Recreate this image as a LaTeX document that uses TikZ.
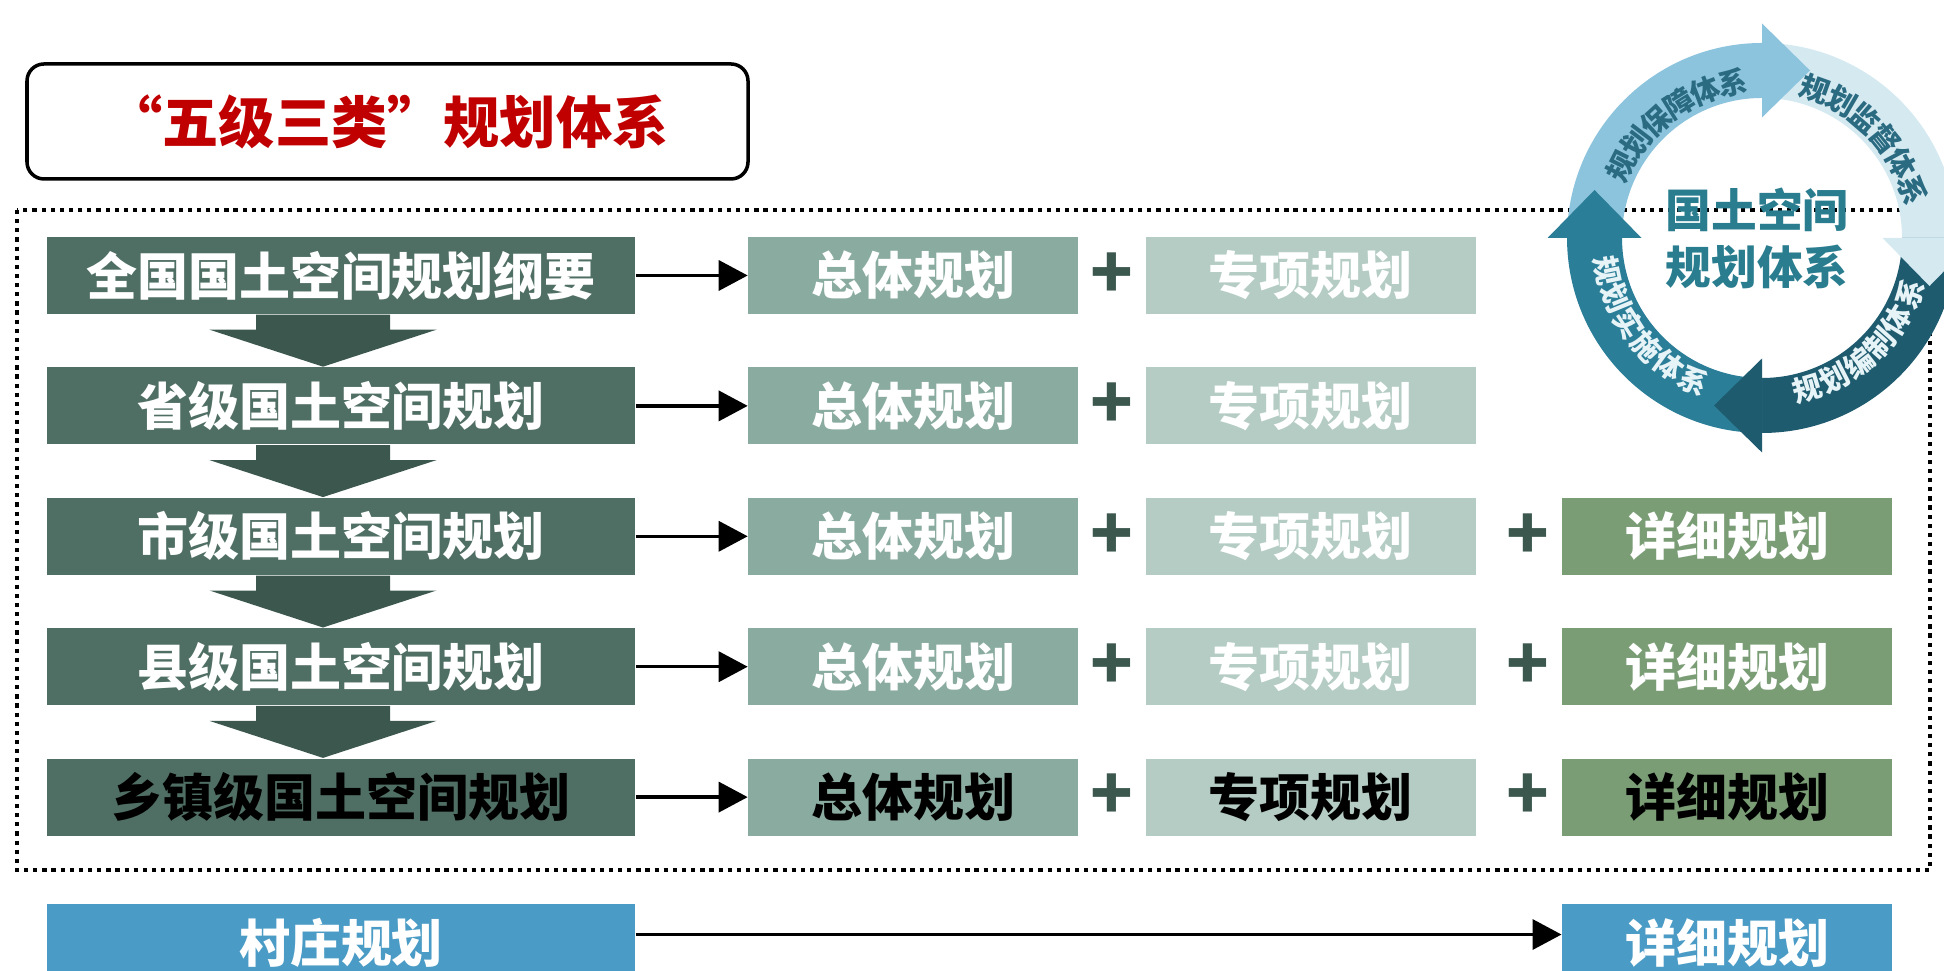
\documentclass[tikz,border=0pt]{standalone}
\usepackage{fontspec}
\setmainfont{Noto Sans CJK SC}
\usetikzlibrary{positioning,calc,arrows.meta}

\definecolor{lvlgreen}{RGB}{80,111,100}
\definecolor{downgreen}{RGB}{60,88,78}
\definecolor{totalgreen}{RGB}{138,171,159}
\definecolor{specialgreen}{RGB}{180,204,196}
\definecolor{detailgreen}{RGB}{122,157,118}
\definecolor{villageblue}{RGB}{74,155,197}
\definecolor{titlered}{RGB}{192,0,0}
\definecolor{ringA}{RGB}{141,196,221}
\definecolor{ringB}{RGB}{213,233,241}
\definecolor{ringC}{RGB}{31,91,111}
\definecolor{ringD}{RGB}{43,126,152}
\definecolor{arcdark}{RGB}{42,107,130}
\definecolor{arclight}{RGB}{230,243,247}
\definecolor{coreteal}{RGB}{42,125,143}

\begin{document}
\begin{tikzpicture}[
    lvl/.style={fill=lvlgreen, text=white, inner sep=0pt,
      minimum width=5.88cm, minimum height=0.77cm,
      font=\bfseries\fontsize{14.5}{17}\selectfont},
    kind/.style={text=white, inner sep=0pt,
      minimum width=3.3cm, minimum height=0.77cm,
      font=\bfseries\fontsize{14.5}{17}\selectfont},
    plus/.style={text=downgreen, inner sep=0pt,
      font=\bfseries\fontsize{20}{20}\selectfont},
    link/.style={line width=1pt, -{Triangle[length=0.29cm,width=0.30cm]}},
    frame/.style={line width=1.2pt, dash pattern=on 1.2pt off 1.4pt},
    arclab/.style={inner sep=0pt, font=\bfseries\fontsize{8.3}{9}\selectfont}
  ]
  \useasboundingbox (0,0) rectangle (19.44,9.71);

  % title
  \node[draw, line width=1pt, rounded corners=0.17cm, minimum width=7.21cm,
    minimum height=1.15cm, text=titlered,
    font=\bfseries\fontsize{16}{18}\selectfont] (title) at (3.875,8.495)
    {“五级三类”规划体系};

  \draw[frame] (0.17,7.61) rectangle (19.30,1.01);

  % five levels
  \node[lvl] (l1) at (3.41,6.955) {全国国土空间规划纲要};
  \node[lvl, below=0.52cm of l1] (l2) {省级国土空间规划};
  \node[lvl, below=0.52cm of l2] (l3) {市级国土空间规划};
  \node[lvl, below=0.52cm of l3] (l4) {县级国土空间规划};
  \node[lvl, below=0.52cm of l4, text=black] (l5) {乡镇级国土空间规划};

  \foreach \a/\b in {l1/l2,l2/l3,l3/l4,l4/l5}
    \fill[downgreen] ($(\a.south)+(-0.85,0)$) -- ($(\a.south)+(-0.85,-0.15)$)
      -- ($(\a.south)+(-1.315,-0.15)$) -- ($(\b.north)+(-0.18,0)$)
      -- ($(\a.south)+(0.955,-0.15)$) -- ($(\a.south)+(0.49,-0.15)$)
      -- ($(\a.south)+(0.49,0)$) -- cycle;

  % three kinds
  \foreach \r in {1,...,4} {
    \node[kind, fill=totalgreen, right=1.12cm of l\r] (z\r) {总体规划};
    \node[kind, fill=specialgreen, right=0.66cm of z\r] (s\r) {专项规划};
    \node[plus] (p\r) at ($(z\r.east)!0.5!(s\r.west)$) {+};
    \draw[link] (l\r) -- (z\r);
  }
  \node[kind, fill=totalgreen, text=black, right=1.12cm of l5] (z5) {总体规划};
  \node[kind, fill=specialgreen, text=black, right=0.66cm of z5] (s5) {专项规划};
  \node[plus] (p5) at ($(z5.east)!0.5!(s5.west)$) {+};
  \draw[link] (l5) -- (z5);

  \node[kind, fill=detailgreen, right=0.85cm of s3] (x3) {详细规划};
  \node[kind, fill=detailgreen, right=0.85cm of s4] (x4) {详细规划};
  \node[kind, fill=detailgreen, text=black, right=0.85cm of s5] (x5) {详细规划};
  \foreach \r in {3,4,5}
    \node[plus] (q\r) at ($(s\r.east)!0.6!(x\r.west)$) {+};

  % village
  \node[lvl, fill=villageblue, below=0.67cm of l5] (v) {村庄规划};
  \node[kind, fill=villageblue, below=0.67cm of x5] (vx) {详细规划};
  \draw[link] ([yshift=0.08cm]v.east) -- ([yshift=0.08cm]vx.west);

  % cycle of the planning system
  \coordinate (C) at (17.62,7.33);
  \foreach \h/\col in {90/ringA,0/ringB,-90/ringC,180/ringD}
    \fill[\col] ($(C)+({\h+90}:1.95)$) arc[start angle=\h+90, end angle=\h, radius=1.95]
      -- ($(C)+(\h:1.40)$) arc[start angle=\h, end angle=\h+90, radius=1.40] -- cycle;
  \foreach \h/\col in {90/ringA,0/ringB,-90/ringC,180/ringD}
    \fill[\col] ($(C)+(\h:1.205)$) -- ($(C)+(\h:1.675)+({\h-90}:0.48)$)
      -- ($(C)+(\h:2.145)$) -- cycle;

  \foreach \mid/\dir/\col/\txt in {127/-1/arcdark/{规,划,保,障,体,系},
      44/-1/arcdark/{规,划,监,督,体,系}, -47/1/arclight/{规,划,编,制,体,系},
      -142/1/arclight/{规,划,实,施,体,系}}
    \foreach \c [count=\i] in \txt {
      \pgfmathsetmacro\ang{\mid+\dir*(\i-3.5)*10.5}
      \node[arclab, text=\col, rotate=\ang+\dir*90] at ($(C)+(\ang:1.58)$) {\c};
    }

  \node[align=center, text=coreteal, inner sep=0pt,
    font=\bfseries\fontsize{13}{16.2}\selectfont] (core) at ($(C)+(-0.05,0)$)
    {国土空间\\规划体系};
\end{tikzpicture}
\end{document}
